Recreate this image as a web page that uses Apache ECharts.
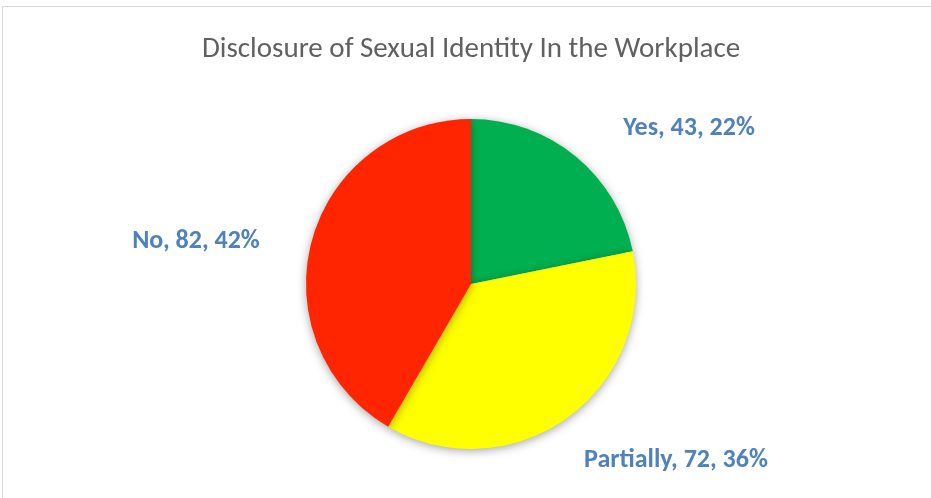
<!DOCTYPE html>
<html>
<head>
<meta charset="utf-8">
<script src="https://cdn.jsdelivr.net/npm/echarts@6/dist/echarts.min.js"></script>
<style>
  html, body { margin: 0; padding: 0; background: #fff; }
  #chart { width: 931px; height: 498px; }
</style>
</head>
<body>
<div id="chart"></div>
<script>
// Survey responses: disclosure of sexual identity at work
const categories = ['Yes', 'Partially', 'No'];
const counts = [43, 72, 82];
const percents = [22, 36, 42];
const sliceColors = ['#00b050', '#ffff00', '#ff2500'];

// Label anchor points (pixel layout)
const labelSpots = [
  { x: 689, y: 128 },
  { x: 676, y: 460 },
  { x: 196, y: 241 }
];

const chart = echarts.init(document.getElementById('chart'), null, { renderer: 'canvas' });

chart.setOption({
  animation: false,
  backgroundColor: '#ffffff',
  title: {
    text: 'Disclosure of Sexual Identity In the Workplace',
    left: 197,
    top: 30,
    textStyle: {
      fontFamily: 'Carlito, "Open Sans", "Liberation Sans", sans-serif',
      fontWeight: 'normal',
      fontSize: 29,
      color: '#606060'
    }
  },
  graphic: [{
    type: 'rect',
    shape: { x: 2.5, y: 6.5, width: 1000, height: 600 },
    style: { fill: 'none', stroke: '#d9d9d9', lineWidth: 1 },
    silent: true
  }],
  series: [{
    type: 'pie',
    center: [471, 284],
    radius: 165,
    startAngle: 90,
    clockwise: true,
    data: categories.map((c, i) => ({
      name: c,
      value: counts[i],
      itemStyle: { color: sliceColors[i] }
    })),
    itemStyle: {
      shadowBlur: 10,
      shadowColor: 'rgba(0,0,0,0.35)',
      shadowOffsetX: 0,
      shadowOffsetY: 2
    },
    label: {
      show: true,
      position: 'outside',
      formatter: p => `${p.name}, ${p.value}, ${percents[p.dataIndex]}%`,
      fontFamily: 'Carlito, "Open Sans", "Liberation Sans", sans-serif',
      fontWeight: 'bold',
      fontSize: 26,
      color: '#4f81bd'
    },
    labelLine: { show: false },
    labelLayout: p => ({
      x: labelSpots[p.dataIndex].x,
      y: labelSpots[p.dataIndex].y,
      align: 'center',
      verticalAlign: 'middle'
    }),
    emphasis: { disabled: true }
  }]
});
</script>
</body>
</html>
